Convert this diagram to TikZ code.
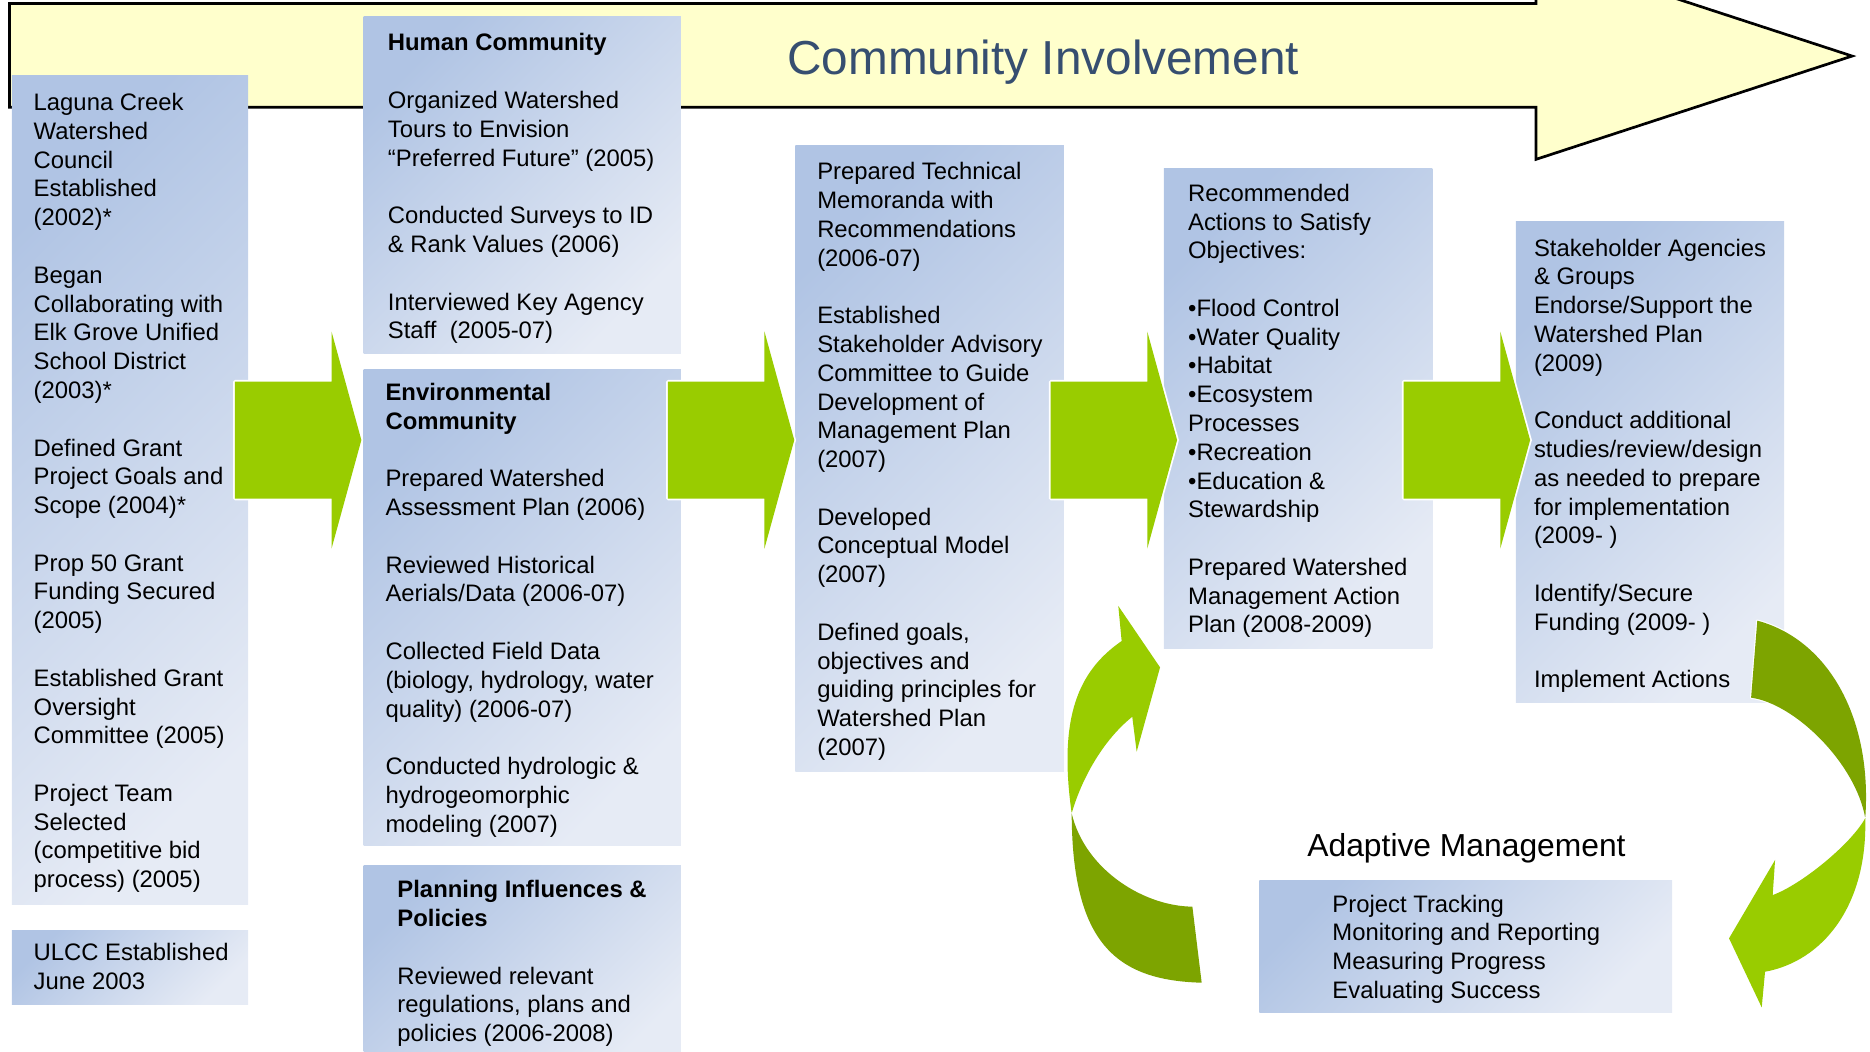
\documentclass[tikz,border=0pt]{standalone}
\usepackage{fontspec}
\setmainfont{Liberation Sans}

\definecolor{bannerfill}{RGB}{255,255,204}
\definecolor{titleblue}{RGB}{54,78,112}
\definecolor{boxdark}{RGB}{176,196,228}
\definecolor{boxlight}{RGB}{230,235,245}
\definecolor{arrowgreen}{RGB}{153,204,0}
\definecolor{arrowdark}{RGB}{125,164,0}

\tikzset{
  banner/.style={fill=bannerfill, draw=black, line width=1.7pt, line join=miter},
  infobox/.style={top color=boxdark, bottom color=boxlight, shading angle=45},
  boxtext/.style={anchor=north west, inner sep=0pt, align=left,
    font=\fontsize{15}{18.1}\selectfont},
  bluntarrow/.style={preaction={draw=white, line width=2.2pt, line join=round}, fill=arrowgreen},
  curvebright/.style={preaction={draw=white, line width=1.4pt, line join=round}, fill=arrowgreen},
  curvedark/.style={preaction={draw=white, line width=1.4pt, line join=round}, fill=arrowdark}
}
\newcommand{\gapline}{\\[18.1pt]}

\begin{document}
\begin{tikzpicture}[x=0.75pt,y=0.75pt,yscale=-1,xscale=1]
\useasboundingbox (0,0) rectangle (1568,882);
\clip (0,0) rectangle (1568,882);

%Banner Arrow
\draw[banner] (8,3) -- (1288,3) -- (1288,-39.6) -- (1553,47) -- (1288,133.6) -- (1288,90) -- (8,90) -- cycle;

% Text Node
\node[anchor=base west, inner sep=0pt, text=titleblue, font=\fontsize{30}{36}\selectfont] (title) at (660,62.5) {Community Involvement};

%Shaded Boxes
\path[infobox] (10,63) rectangle (208,758);
\path[infobox] (10,780) rectangle (208,842);
\path[infobox] (305,14) rectangle (571,296);
\path[infobox] (305,310) rectangle (571,709);
\path[infobox] (305,726) rectangle (571,900);
\path[infobox] (667,122) rectangle (892,647);
\path[infobox] (976,141) rectangle (1201,544);
\path[infobox] (1271,186) rectangle (1496,589);
\path[infobox] (1056,738) rectangle (1402,849);

% Text Node
\node[boxtext] (laguna) at (28,78) {Laguna Creek\\Watershed\\Council\\Established\\(2002)*\gapline
Began\\Collaborating with\\Elk Grove Unified\\School District\\(2003)*\gapline
Defined Grant\\Project Goals and\\Scope (2004)*\gapline
Prop 50 Grant\\Funding Secured\\(2005)\gapline
Established Grant\\Oversight\\Committee (2005)\gapline
Project Team\\Selected\\(competitive bid\\process) (2005)};
% Text Node
\node[boxtext] (ulcc) at (28,791) {ULCC Established\\June 2003};
% Text Node
\node[boxtext] (human) at (325,28) {\textbf{Human Community}\gapline
Organized Watershed\\Tours to Envision\\“Preferred Future” (2005)\gapline
Conducted Surveys to ID\\\& Rank Values (2006)\gapline
Interviewed Key Agency\\Staff\ \ (2005-07)};
% Text Node
\node[boxtext] (environ) at (323,321) {\textbf{Environmental}\\\textbf{Community}\gapline
Prepared Watershed\\Assessment Plan (2006)\gapline
Reviewed Historical\\Aerials/Data (2006-07)\gapline
Collected Field Data\\(biology, hydrology, water\\quality) (2006-07)\gapline
Conducted hydrologic \&\\hydrogeomorphic\\modeling (2007)};
% Text Node
\node[boxtext] (planning) at (333,738) {\textbf{Planning Influences \&}\\\textbf{Policies}\gapline
Reviewed relevant\\regulations, plans and\\policies (2006-2008)};
% Text Node
\node[boxtext] (technical) at (685,136) {Prepared Technical\\Memoranda with\\Recommendations\\(2006-07)\gapline
Established\\Stakeholder Advisory\\Committee to Guide\\Development of\\Management Plan\\(2007)\gapline
Developed\\Conceptual Model\\(2007)\gapline
Defined goals,\\objectives and\\guiding principles for\\Watershed Plan\\(2007)};
% Text Node
\node[boxtext] (recommend) at (996,154) {Recommended\\Actions to Satisfy\\Objectives:\gapline
•Flood Control\\•Water Quality\\•Habitat\\•Ecosystem\\Processes\\•Recreation\\•Education \&\\Stewardship\gapline
Prepared Watershed\\Management Action\\Plan (2008-2009)};
% Text Node
\node[boxtext] (endorse) at (1286,200) {Stakeholder Agencies\\\& Groups\\Endorse/Support the\\Watershed Plan\\(2009)\gapline
Conduct additional\\studies/review/design\\as needed to prepare\\for implementation\\(2009- )\gapline
Identify/Secure\\Funding (2009- )\gapline
Implement Actions};
% Text Node
\node[boxtext] (tracking) at (1117,750) {Project Tracking\\Monitoring and Reporting\\Measuring Progress\\Evaluating Success};
% Text Node
\node[anchor=base west, inner sep=0pt, font=\fontsize{20}{24}\selectfont] (adaptive) at (1096,718.5) {Adaptive Management};

%Right Arrows
\foreach \ax in {197,560,881,1177}
  \path[bluntarrow] (\ax,320) -- ++(81,0) -- ++(0,-42) -- ++(25,91) -- ++(-25,91) -- ++(0,-42) -- ++(-81,0) -- cycle;

%Curved Arrows
\path[curvebright] (898.6,682) .. controls (887,600) and (905,562) .. (940.5,537.5) -- (937.7,508.1) -- (972.7,559.6) -- (953.1,630.3) -- (949.4,601) .. controls (924.4,621) and (906.6,654) .. cycle;
\path[curvedark] (898.6,682) .. controls (899,790) and (935,822) .. (1007.6,824) -- (999.8,760.2) .. controls (960,760) and (910,730) .. cycle;
\path[curvedark] (1473.5,520.4) .. controls (1535,537) and (1570,605) .. (1564,686) .. controls (1556,640) and (1505,590) .. (1468.3,585) -- cycle;
\path[curvebright] (1564,686) .. controls (1566,760) and (1528,806) .. (1480,814.8) -- (1477.2,844.7) -- (1449.8,786.8) -- (1488.4,721.1) -- (1486.4,750.5) .. controls (1510,742) and (1552,708) .. cycle;

\end{tikzpicture}
\end{document}
